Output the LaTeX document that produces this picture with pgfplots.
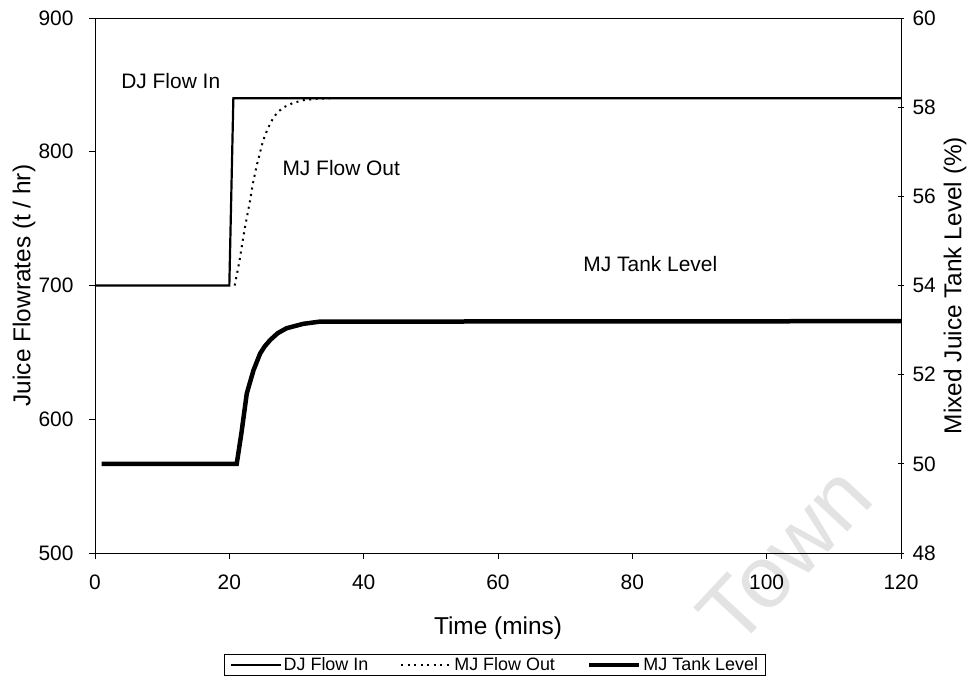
\documentclass[border=0pt]{standalone}
\usepackage{pgfplots}
\pgfplotsset{compat=1.18}
\usetikzlibrary{backgrounds}
\usepackage{fontspec}
\setmainfont{Liberation Sans}
\begin{document}
\begin{tikzpicture}
\pgfplotsset{
  every axis/.append style={
    scale only axis, width=806bp, height=535bp,
    xmin=0, xmax=120,
    /pgf/number format/assume math mode=true,
    tick label style={font=\fontsize{21}{24}\selectfont},
    label style={font=\fontsize{24.5}{28}\selectfont},
    major tick length=6bp,
    axis line style={line width=0.9bp, black},
    tick style={line width=0.8bp, black},
  },
}
\begin{axis}[
  name=ax,
  ymin=500, ymax=900,
  xtick={0,20,...,120}, ytick={500,600,...,900},
  xtick pos=lower, ytick pos=left,
  tick align=outside,
  xlabel={Time (mins)}, ylabel={Juice Flowrates (t / hr)},
  xlabel style={at={(axis description cs:0.5,-0.140)}, anchor=center},
  ylabel style={at={(axis description cs:-0.0881,0.5)}, anchor=center},
  xticklabel shift=12bp,
  yticklabel shift=12bp,
  legend columns=3,
  legend cell align=left,
  legend image code/.code={\draw[#1] (0bp,0bp) -- (50bp,0bp);},
  legend style={at={(axis description cs:0.496,-0.2093)}, anchor=center,
    draw=black, line width=0.8bp, inner xsep=5bp, inner ysep=1bp,
    font=\fontsize{18}{21}\selectfont,
    /tikz/every even column/.append style={column sep=30bp}},
]
\addplot[black, line width=2.2bp] coordinates {
  (0,700) (20,700) (20.6,840) (120,840)
};
\addlegendentry{DJ Flow In}
\addplot[black, line width=2bp, dash pattern=on 2bp off 4.5bp] coordinates {
  (20.8,700) (21.5,718) (22.2,740) (23.1,764) (23.5,776) (24,788) (24.6,800)
  (25,808) (25.7,817) (26.5,825) (27.1,829) (28,833) (29.5,836.5) (31,838.5)
  (33,839.6) (35,840)
};
\addlegendentry{MJ Flow Out}
\addlegendimage{black, line width=4.5bp}
\addlegendentry{MJ Tank Level}
\node[anchor=base west, font=\fontsize{21}{24}\selectfont] at (axis cs:3.4,847) {DJ Flow In};
\node[anchor=base west, font=\fontsize{21}{24}\selectfont] at (axis cs:27.4,781.9) {MJ Flow Out};
\node[anchor=base west, font=\fontsize{21}{24}\selectfont] at (axis cs:72.2,710.1) {MJ Tank Level};
\end{axis}
\begin{axis}[
  ymin=48, ymax=60, ytick={48,50,...,60},
  axis y line*=right, axis x line=none,
  tick align=center,
  yticklabel style={xshift=5bp},
  ylabel={Mixed Juice Tank Level (\%)},
  ylabel style={at={(axis description cs:1.067,0.5)}, anchor=center},
]
\addplot[black, line width=4.5bp] coordinates {
  (1,50) (21.1,50) (21.8,50.69) (22.6,51.58) (23.6,52.1) (24.6,52.48)
  (25.3,52.64) (26.1,52.78) (27.2,52.93) (28.5,53.04) (31,53.14) (33.5,53.19) (120,53.2)
};
\end{axis}
\begin{scope}[on background layer]
\node[rotate=47, text=black!11, font=\fontsize{88}{90}\selectfont, anchor=center]
  at ([shift={(690bp,-2bp)}]ax.south west) {Town};
\end{scope}
\pgfresetboundingbox
\path ([shift={(-95bp,-130bp)}]ax.south west) rectangle ([shift={(73bp,18bp)}]ax.north east);
\end{tikzpicture}
\end{document}
